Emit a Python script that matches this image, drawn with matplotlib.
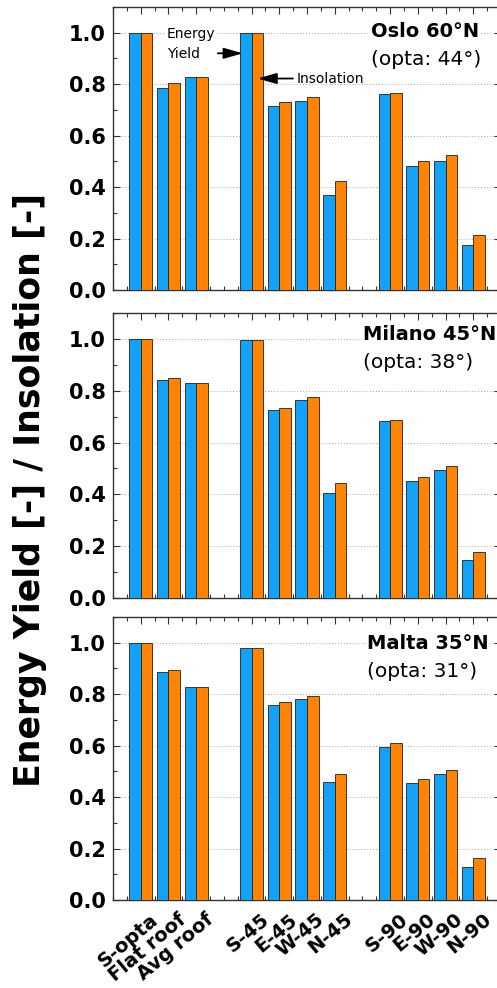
import numpy as np
import matplotlib
matplotlib.use("Agg")
import matplotlib.pyplot as plt
from matplotlib.ticker import MultipleLocator
from matplotlib.transforms import ScaledTranslation

# categories (empty slots are the gaps between groups)
categories = ["S-opta", "Flat roof", "Avg roof", "S-45", "E-45", "W-45", "N-45",
              "S-90", "E-90", "W-90", "N-90"]
slots = [0, 1, 2, 4, 5, 6, 7, 9, 10, 11, 12]

sites = ["Oslo 60°N", "Milano 45°N", "Malta 35°N"]
opta = ["(opta: 44°)", "(opta: 38°)", "(opta: 31°)"]

# energy yield (normalised)
yield_oslo = [1.0, 0.786, 0.829, 1.0, 0.717, 0.734, 0.371, 0.760, 0.481, 0.500, 0.173]
yield_milano = [1.0, 0.840, 0.830, 0.995, 0.725, 0.764, 0.406, 0.683, 0.453, 0.494, 0.145]
yield_malta = [1.0, 0.886, 0.829, 0.979, 0.758, 0.783, 0.457, 0.596, 0.453, 0.490, 0.130]

# insolation (normalised)
insol_oslo = [1.0, 0.805, 0.829, 1.0, 0.730, 0.752, 0.422, 0.765, 0.501, 0.526, 0.214]
insol_milano = [1.0, 0.849, 0.830, 0.995, 0.733, 0.777, 0.444, 0.686, 0.467, 0.511, 0.177]
insol_malta = [1.0, 0.895, 0.829, 0.979, 0.769, 0.793, 0.490, 0.611, 0.470, 0.505, 0.163]

yields = [yield_oslo, yield_milano, yield_malta]
insols = [insol_oslo, insol_milano, insol_malta]

blue = "#14A2F8"
orange = "#FF8405"

fig = plt.figure(figsize=(4.97, 9.88), dpi=100)

# axes boxes in pixels: (top, bottom), label anchors (x px, site y frac, opta y frac)
boxes = [(7, 290), (313, 598), (617, 900)]
label_pos = [(371, 0.912, 0.813), (363, 0.923, 0.825), (367, 0.908, 0.806)]
W, H = 497.0, 988.0
left_px, right_px = 113, 501

x = np.array(slots, dtype=float)
bw = 0.42

axes = []
for i, (top, bot) in enumerate(boxes):
    ax = fig.add_axes([left_px / W, 1 - bot / H, (right_px - left_px) / W, (bot - top) / H])
    axes.append(ax)
    ax.bar(x - bw / 2, yields[i], bw, color=blue, edgecolor="#202020", linewidth=0.6, zorder=3)
    ax.bar(x + bw / 2, insols[i], bw, color=orange, edgecolor="#202020", linewidth=0.6, zorder=3)

    ax.set_xlim(-1, 13)
    ax.set_ylim(0, 1.1)
    ax.yaxis.set_minor_locator(MultipleLocator(0.1))
    ax.xaxis.set_minor_locator(MultipleLocator(0.5))
    ax.set_yticks([0.0, 0.2, 0.4, 0.6, 0.8, 1.0])
    ax.set_yticklabels(["0.0", "0.2", "0.4", "0.6", "0.8", "1.0"], fontsize=15, fontweight="bold")
    ax.tick_params(which="both", direction="in", top=True, right=True, color="#333333")
    ax.tick_params(which="major", length=5, width=0.8)
    ax.tick_params(which="minor", length=3, width=0.8)
    ax.tick_params(axis="y", pad=5)
    ax.grid(axis="y", which="major", linestyle=(0, (1, 2)), color="#a8a8a8", linewidth=0.7, zorder=0)
    for s in ax.spines.values():
        s.set_color("#333333")
        s.set_linewidth(1.0)
    ax.spines["right"].set_visible(False)

    lx, sy, oy = label_pos[i]
    fx = (lx - left_px) / (right_px - left_px)
    ax.text(fx, sy, sites[i], transform=ax.transAxes, ha="left", va="center",
            fontsize=14, fontweight="bold",
            bbox=dict(facecolor="white", edgecolor="none", pad=0.5), zorder=5)
    ax.text(fx, oy, opta[i], transform=ax.transAxes, ha="left", va="center",
            fontsize=14.5, zorder=5)

    ax.set_xticks(slots)
    if i < 2:
        ax.set_xticklabels([])
    else:
        labs = ax.set_xticklabels(categories, rotation=40, ha="right", va="top",
                                  rotation_mode="anchor", fontsize=14, fontweight="bold")
        off = ScaledTranslation(9 / 100, -5 / 100, fig.dpi_scale_trans)
        for t in labs:
            t.set_transform(t.get_transform() + off)

# annotations in the Oslo panel
ax0 = axes[0]
ax0.text(0.94, 0.955, "Energy\nYield", ha="left", va="center", fontsize=10,
         linespacing=1.55, bbox=dict(facecolor="white", edgecolor="none", pad=0.5), zorder=5)
arrow = dict(arrowstyle="-|>,head_length=1.15,head_width=0.33", color="black", lw=1.3,
             shrinkA=0, shrinkB=0)
ax0.annotate("", xy=(3.68, 0.92), xytext=(2.78, 0.92), arrowprops=arrow, zorder=6)
ax0.text(5.62, 0.822, "Insolation", ha="left", va="center", fontsize=10, zorder=5)
ax0.annotate("", xy=(4.22, 0.822), xytext=(5.49, 0.822), arrowprops=arrow, zorder=6)

fig.text(30 / W, 1 - 490 / H, "Energy Yield [-] / Insolation [-]", rotation=90,
         ha="center", va="center", fontsize=25, fontweight="bold")

fig.savefig("out.png", dpi=100)
